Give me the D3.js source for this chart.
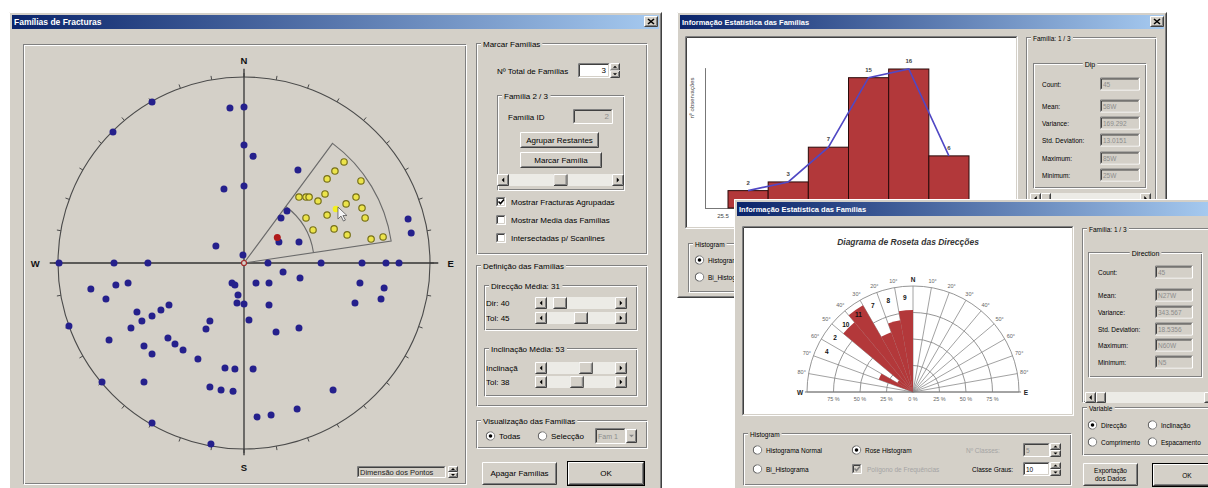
<!DOCTYPE html>
<html><head><meta charset="utf-8">
<script src="https://cdn.jsdelivr.net/npm/d3@7"></script>
<style>
html,body{margin:0;padding:0;background:#fff;overflow:hidden}
svg{display:block}
text{font-family:"Liberation Sans",Arial,sans-serif}
</style></head><body>
<svg id="c" width="1208" height="488"></svg>
<script>
// ---------- data ----------
const compassLabels = ["N", "E", "S", "W"];
// poles on the polar net, [east, north] in dip degrees (0 = centre, 90 = primitive)
const otherPoles = [
  [-44.5,77.9],[-63.4,63.4],[-6.8,75.0],[0,75.5],[0,57.1],[4.4,51.7],[-9.7,35.8],[0,37.3],
  [26.1,45.0],[20.8,25.2],[17.9,21.8],[26.6,10.2],[16.9,10.2],[-13.6,8.2],[79.4,21.3],[80.9,14.5],
  [-0.5,3.9],[-89.5,0],[-62.9,0],[-46.5,0],[11.6,0],[37.3,0],[57.1,0],[68.7,0],[75.0,0],
  [18.9,-4.4],[27.1,-7.3],[-74.1,-12.6],[-62.0,-10.6],[-56.1,-9.7],[-66.8,-17.4],[-5.8,-9.7],
  [-4.4,-10.6],[5.8,-9.7],[12.1,-9.7],[56.1,-9.7],[67.8,-12.1],[66.3,-17.4],[53.7,-19.4],
  [-2.9,-15.5],[-3.4,-19.4],[0,-19.8],[12.1,-20.3],[-51.8,-23.7],[-40.2,-22.7],[-36.3,-20.3],
  [-49.4,-28.1],[-44.5,-25.7],[-54.7,-31.5],[-16.5,-28.1],[-18.4,-31.9],[2.4,-27.6],[-84.7,-30.5],
  [-65.3,-37.3],[15.5,-33.4],[26.6,-31.5],[-48.4,-40.2],[-44.5,-44.0],[-36.8,-36.3],[-33.4,-39.2],
  [-29.5,-42.1],[-22.3,-46.5],[-9.2,-50.8],[-4.4,-51.3],[4.4,-51.3],[-68.7,-57.6],[-48.4,-57.6],
  [-16.5,-60.0],[-11.1,-61.5],[-5.3,-62.0],[43.1,-61.5],[25.7,-70.7],[13.1,-73.6],[6.3,-74.5],
  [-44.5,-77.4],[-16.0,-87.6]
];
const familyPoles = [
  [48.4,48.9],[44.0,44.5],[56.6,39.7],[40.2,40.7],[26.6,31.9],[30.0,31.9],[31.5,31.9],[35.8,30.0],
  [39.2,33.4],[54.2,31.9],[49.4,28.6],[57.1,26.6],[58.6,21.8],[40.2,23.2],[30.0,21.8],[43.6,16.5],
  [33.4,16.0],[49.9,13.6],[61.5,11.6],[67.3,12.6]
];
const hoverPole = [44.5, 26.1];
const markedPole = [16.5, 11.6];
const familyAzimuth = [36.5, 81.5];
const familyDip = 53, familyDipTol = 38;
const sliderDir = 40, sliderDirTol = 45, sliderDip = 53, sliderDipTol = 38;

const dipClassEdges = [25, 35, 45, 55, 65, 75, 85];
const dipCounts = [2, 3, 7, 15, 16, 6];
const statLabels = ["Count:", "Mean:", "Variance:", "Std. Deviation:", "Maximum:", "Minimum:"];
const dipStatValues = ["45", "58W", "169.292", "13.0151", "85W", "25W"];
const dirStatValues = ["45", "N27W", "343.567", "18.5356", "N60W", "N5"];

const roseClassStart = [290, 300, 310, 320, 330, 340, 350];
const roseCounts = [4, 2, 10, 11, 7, 8, 9];
const roseRings = [25, 50, 75, 100];
const roseRingLabels = [75, 50, 25];
const roseAngleTicks = [10, 20, 30, 40, 50, 60, 70, 80];

// ---------- widget helpers ----------
const svg = d3.select("#c");
const FACE = "#d4d0c8", SH = "#808080", DK = "#404040", HI = "#ffffff";
const defs = svg.append("defs");
const grad = defs.append("linearGradient").attr("id", "tb").attr("x1", 0).attr("x2", 1).attr("y1", 0).attr("y2", 0);
grad.append("stop").attr("offset", "0%").attr("stop-color", "#0a246a");
grad.append("stop").attr("offset", "100%").attr("stop-color", "#a6caf0");

function txt(g, x, y, s, o = {}) {
  return g.append("text").attr("x", x).attr("y", y).attr("font-size", o.size || 8)
    .attr("font-weight", o.weight || "normal").attr("font-style", o.style || "normal")
    .attr("text-anchor", o.anchor || "start").attr("dominant-baseline", "central")
    .attr("fill", o.fill || "#000").text(s);
}
function bevel(g, x, y, w, h, tl, br) {
  g.append("path").attr("d", `M${x + .5},${y + h - .5}V${y + .5}H${x + w - .5}`).attr("fill", "none").attr("stroke", tl);
  g.append("path").attr("d", `M${x + w - .5},${y + .5}V${y + h - .5}H${x + .5}`).attr("fill", "none").attr("stroke", br);
}
function raised(g, x, y, w, h, fill) {
  g.append("rect").attr("x", x).attr("y", y).attr("width", w).attr("height", h).attr("fill", fill || FACE);
  bevel(g, x, y, w, h, HI, DK);
  bevel(g, x + 1, y + 1, w - 2, h - 2, FACE, SH);
}
function sunken(g, x, y, w, h, fill) {
  g.append("rect").attr("x", x).attr("y", y).attr("width", w).attr("height", h).attr("fill", fill || "#fff");
  bevel(g, x, y, w, h, SH, HI);
  bevel(g, x + 1, y + 1, w - 2, h - 2, DK, FACE);
}
function etched(g, x, y, w, h) {
  g.append("rect").attr("x", x + .5).attr("y", y + .5).attr("width", w - 2).attr("height", h - 2).attr("fill", "none").attr("stroke", SH);
  g.append("rect").attr("x", x + 1.5).attr("y", y + 1.5).attr("width", w - 2).attr("height", h - 2).attr("fill", "none").attr("stroke", HI);
}
function group(g, x, y, w, h, label, fs, centered) {
  etched(g, x, y, w, h);
  if (label) {
    const t = txt(g, centered ? x + w / 2 : x + 7, y + 1, label, { size: fs, anchor: centered ? "middle" : "start" });
    const b = t.node().getBBox();
    g.insert("rect", () => t.node()).attr("x", b.x - 2).attr("y", b.y).attr("width", b.width + 4).attr("height", b.height).attr("fill", FACE);
  }
}
function tri(g, cx, cy, dir, s, col) {
  const p = { up: `M${cx - s},${cy + s / 2}L${cx + s},${cy + s / 2}L${cx},${cy - s / 2}Z`,
              down: `M${cx - s},${cy - s / 2}L${cx + s},${cy - s / 2}L${cx},${cy + s / 2}Z`,
              left: `M${cx + s / 2},${cy - s}L${cx + s / 2},${cy + s}L${cx - s / 2},${cy}Z`,
              right: `M${cx - s / 2},${cy - s}L${cx - s / 2},${cy + s}L${cx + s / 2},${cy}Z` }[dir];
  g.append("path").attr("d", p).attr("fill", col || "#000");
}
function button(g, x, y, w, h, label, fs, isDefault) {
  if (isDefault) {
    g.append("rect").attr("x", x + .5).attr("y", y + .5).attr("width", w - 1).attr("height", h - 1).attr("fill", "none").attr("stroke", "#000");
    raised(g, x + 1, y + 1, w - 2, h - 2);
  } else raised(g, x, y, w, h);
  if (Array.isArray(label)) {
    label.forEach((l, i) => txt(g, x + w / 2, y + h / 2 + (i - (label.length - 1) / 2) * (fs + 1), l, { size: fs, anchor: "middle" }));
  } else txt(g, x + w / 2, y + h / 2, label, { size: fs, anchor: "middle" });
}
function scrollbar(g, x, y, w, h, frac, thumbW) {
  g.append("rect").attr("x", x).attr("y", y).attr("width", w).attr("height", h).attr("fill", "#ecebe6");
  raised(g, x, y, h, h); tri(g, x + h / 2, y + h / 2, "left", 2.5);
  raised(g, x + w - h, y, h, h); tri(g, x + w - h / 2, y + h / 2, "right", 2.5);
  const tw = thumbW || 14;
  raised(g, x + h + frac * (w - 2 * h - tw), y, tw, h);
}
function spinner(g, x, y, w, h) {
  const hh = h / 2;
  raised(g, x, y, w, hh); tri(g, x + w / 2, y + hh / 2, "up", 2);
  raised(g, x, y + hh, w, hh); tri(g, x + w / 2, y + hh + hh / 2, "down", 2);
}
function textBox(g, x, y, w, h, value, fs, disabled, align, textCol) {
  sunken(g, x, y, w, h, disabled ? FACE : "#fff");
  if (value !== undefined) {
    const col = textCol || (disabled ? "#8c8c8c" : "#000");
    if (align === "end") txt(g, x + w - 4, y + h / 2, value, { size: fs, anchor: "end", fill: col });
    else txt(g, x + 3, y + h / 2, value, { size: fs, fill: col });
  }
}
function checkbox(g, x, y, checked, label, fs, disabled) {
  sunken(g, x, y - 5, 10, 10, disabled ? FACE : "#fff");
  if (checked) g.append("path").attr("d", `M${x + 2.5},${y - 0.5}l2,2l3.5,-4`).attr("fill", "none")
    .attr("stroke", disabled ? "#808080" : "#000").attr("stroke-width", 1.6);
  if (label) txt(g, x + 15, y, label, { size: fs, fill: disabled ? "#a4a4a4" : "#000" });
}
function radio(g, x, y, checked, label, fs) {
  g.append("circle").attr("cx", x + 4.5).attr("cy", y).attr("r", 4.2).attr("fill", "#fff").attr("stroke", SH);
  g.append("path").attr("d", d3.arc()({ innerRadius: 4, outerRadius: 4.4, startAngle: -Math.PI * 0.9, endAngle: -Math.PI * 0.1 }))
    .attr("transform", `translate(${x + 4.5},${y})`).attr("fill", DK);
  if (checked) g.append("circle").attr("cx", x + 4.5).attr("cy", y).attr("r", 1.8).attr("fill", "#000");
  if (label) txt(g, x + 13, y, label, { size: fs });
}
function windowFrame(g, x, y, w, h, title, fs) {
  raised(g, x, y, w, h);
  g.append("rect").attr("x", x + 3).attr("y", y + 3).attr("width", w - 6).attr("height", 14).attr("fill", "url(#tb)");
  txt(g, x + 5, y + 10, title, { size: fs, weight: "bold", fill: "#fff" });
}
function closeBtn(g, x, y) {
  raised(g, x, y, 14, 11);
  g.append("path").attr("d", `M${x + 4},${y + 3}l6,5M${x + 10},${y + 3}l-6,5`).attr("stroke", "#000").attr("stroke-width", 1.6);
}
const rad = d => d * Math.PI / 180;

// ================= Famílias de Fracturas =================
const L = svg.append("g");
windowFrame(L, 9, 12, 653, 490, "Famílias de Fracturas", 8.5);
closeBtn(L, 644, 16);
etched(L, 23, 44, 444, 441);

// polar net of fracture poles
const net = { cx: 244, cy: 263, R: 186 };
const sx = d3.scaleLinear().domain([-90, 90]).range([net.cx - net.R, net.cx + net.R]);
const sy = d3.scaleLinear().domain([-90, 90]).range([net.cy + net.R, net.cy - net.R]);
const sr = d3.scaleLinear().domain([0, 90]).range([0, net.R]);
const N = L.append("g");
N.append("circle").attr("cx", sx(0)).attr("cy", sy(0)).attr("r", sr(90)).attr("fill", "none").attr("stroke", "#4a4a4a").attr("stroke-width", 1.1);
N.selectAll("line.tick").data(d3.range(0, 360, 10)).join("line").attr("class", "tick")
  .attr("x1", a => sx(0) + sr(90) * Math.sin(rad(a))).attr("y1", a => sy(0) - sr(90) * Math.cos(rad(a)))
  .attr("x2", a => sx(0) + (sr(90) + 4) * Math.sin(rad(a))).attr("y2", a => sy(0) - (sr(90) + 4) * Math.cos(rad(a)))
  .attr("stroke", "#4a4a4a");
N.append("line").attr("x1", sx(-94)).attr("x2", sx(94)).attr("y1", sy(0)).attr("y2", sy(0)).attr("stroke", "#333").attr("stroke-width", 1.3);
N.append("line").attr("x1", sx(0)).attr("x2", sx(0)).attr("y1", sy(94)).attr("y2", sy(-93)).attr("stroke", "#333").attr("stroke-width", 1.3);
const labelPos = { N: [0, 98], S: [0, -99], E: [100, 0], W: [-101, 0] };
compassLabels.forEach(k => txt(N, sx(labelPos[k][0]), sy(labelPos[k][1]), k, { size: 9.5, weight: "bold", anchor: "middle", fill: "#111" }));

// family window: azimuth range and dip range
const dipIn = familyDip - familyDipTol / 2, dipOut = familyDip + familyDipTol / 2;
N.append("path").attr("d", d3.arc()({ innerRadius: 0, outerRadius: sr(dipOut), startAngle: rad(familyAzimuth[0]), endAngle: rad(familyAzimuth[1]) }))
  .attr("transform", `translate(${sx(0)},${sy(0)})`).attr("fill", "none").attr("stroke", "#6a6a6a").attr("stroke-width", 1.1);
const innerArc = d3.path();
innerArc.arc(sx(0), sy(0), sr(dipIn), rad(familyAzimuth[0] - 90), rad(familyAzimuth[1] - 90));
N.append("path").attr("d", innerArc.toString()).attr("fill", "none").attr("stroke", "#6a6a6a").attr("stroke-width", 1.1);

N.selectAll("circle.pole").data(otherPoles).join("circle").attr("class", "pole")
  .attr("cx", d => sx(d[0])).attr("cy", d => sy(d[1])).attr("r", 3.5).attr("fill", "#25208c");
N.selectAll("circle.fam").data(familyPoles).join("circle").attr("class", "fam")
  .attr("cx", d => sx(d[0])).attr("cy", d => sy(d[1])).attr("r", 3.2).attr("fill", "#ece44a").attr("stroke", "#77701a").attr("stroke-width", 1.2);
N.append("circle").attr("cx", sx(hoverPole[0])).attr("cy", sy(hoverPole[1])).attr("r", 3.3).attr("fill", "#f4f020");
N.append("circle").attr("cx", sx(markedPole[0]) - 0.8).attr("cy", sy(markedPole[1]) - 1.5).attr("r", 3.5).attr("fill", "#b01a1a");
N.append("circle").attr("cx", sx(0)).attr("cy", sy(0)).attr("r", 2.5).attr("fill", FACE).attr("stroke", "#a52a2a").attr("stroke-width", 1.2);
// mouse pointer resting on the highlighted pole
N.append("path").attr("d", "M0,0L0,12L3,9L5.5,14L7.5,13L5,8.5L9,8.5Z")
  .attr("transform", `translate(${sx(hoverPole[0]) + 2},${sy(hoverPole[1]) - 2})`)
  .attr("fill", "#f4f4f4").attr("stroke", "#555").attr("stroke-width", 0.8);

textBox(L, 357, 466, 89, 12, "Dimensão dos Pontos", 7.5, true, "start", "#222");
spinner(L, 448, 466, 10, 12);

// controls
const fsL = 8;
group(L, 476, 43, 172, 212, "Marcar Famílias", fsL);
txt(L, 497, 71, "Nº Total de Famílias", { size: fsL });
textBox(L, 578, 63, 32, 15, "3", fsL, false, "end");
spinner(L, 610, 63, 10, 15);
group(L, 497, 95, 128, 96, "Família 2 / 3", fsL);
txt(L, 508, 117, "Família   ID", { size: fsL });
textBox(L, 573, 109, 40, 15, "2", fsL, true, "end");
button(L, 520, 132, 79, 16, "Agrupar Restantes", fsL);
button(L, 520, 152, 82, 16, "Marcar Família", fsL);
scrollbar(L, 497, 174, 127, 12, (2 - 1) / (3 - 1), 14);
checkbox(L, 496, 202, true, "Mostrar Fracturas Agrupadas", fsL);
checkbox(L, 496, 220, false, "Mostrar Media das Famílias", fsL);
checkbox(L, 496, 238, false, "Intersectadas p/ Scanlines", fsL);

group(L, 476, 265, 172, 142, "Definição das Famílias", fsL);
group(L, 484, 285, 154, 46, "Direcção Média: 31", fsL);
txt(L, 486, 303, "Dir: " + sliderDir, { size: fsL });
scrollbar(L, 535, 297, 92, 12, sliderDir / 360, 14);
txt(L, 486, 318, "Tol: " + sliderDirTol, { size: fsL });
scrollbar(L, 535, 312, 92, 12, sliderDirTol / 90, 14);
group(L, 484, 348, 154, 49, "Inclinação Média: " + familyDip, fsL);
txt(L, 486, 368, "Inclinaçã", { size: fsL });
scrollbar(L, 535, 362, 92, 12, sliderDip / 90, 14);
txt(L, 486, 382, "Tol: " + sliderDipTol, { size: fsL });
scrollbar(L, 535, 376, 92, 12, sliderDipTol / 90, 14);

group(L, 476, 420, 172, 29, "Visualização das Famílias", fsL);
radio(L, 486, 436, true, "Todas", fsL);
radio(L, 538, 436, false, "Selecção", fsL);
textBox(L, 595, 428, 31, 16, "Fam 1", 7, true);
raised(L, 626, 429, 11, 14); tri(L, 631.5, 436, "down", 2.5, "#888");
button(L, 482, 462, 75, 23, "Apagar Famílias", fsL);
button(L, 567, 461, 78, 25, "OK", fsL, true);

// ================= Informação Estatística (Dip) =================
const T = svg.append("g");
const fsR = 6.5;
windowFrame(T, 677, 12, 490, 286, "Informação Estatística das Famílias", 7.5);
closeBtn(T, 1150, 16);
sunken(T, 685, 36, 333, 193, "#fff");
const hx = d3.scaleLinear().domain([25, 85]).range([728, 969]);
const hy = d3.scaleLinear().domain([0, 16]).range([208, 69]);
const bars = dipCounts.map((c, i) => ({ c, x0: dipClassEdges[i], x1: dipClassEdges[i + 1] }));
T.append("line").attr("x1", 705.5).attr("x2", 705.5).attr("y1", hy(0)).attr("y2", hy(16.1)).attr("stroke", "#777");
T.append("line").attr("x1", 705).attr("x2", 990).attr("y1", hy(0) + .5).attr("y2", hy(0) + .5).attr("stroke", "#777");
T.selectAll("rect.bar").data(bars).join("rect").attr("class", "bar")
  .attr("x", d => hx(d.x0)).attr("width", d => hx(d.x1) - hx(d.x0))
  .attr("y", d => hy(d.c)).attr("height", d => hy(0) - hy(d.c))
  .attr("fill", "#b2383a").attr("stroke", "#2a0a0a").attr("stroke-width", 1);
T.append("path").attr("d", d3.line().x(d => (hx(d.x0) + hx(d.x1)) / 2).y(d => hy(d.c))(bars))
  .attr("fill", "none").attr("stroke", "#5048c4").attr("stroke-width", 1.6);
T.selectAll("text.bl").data(bars).join("text").attr("class", "bl")
  .attr("x", d => (hx(d.x0) + hx(d.x1)) / 2).attr("y", d => hy(d.c) - 6)
  .attr("text-anchor", "middle").attr("font-size", 6).attr("font-weight", "bold").attr("fill", "#444").text(d => d.c);
txt(T, hx(dipClassEdges[0]) - 5, 216, "25.5", { size: 6, anchor: "middle", fill: "#444" });
txt(T, 0, 0, "nº observações", { size: 6, anchor: "middle", fill: "#444" })
  .attr("transform", "translate(692,98) rotate(-90)");

group(T, 1026, 37, 131, 250, "Família: 1 / 3", fsR);
group(T, 1033, 63, 114, 126, "Dip", 7, true);
const dipRowY = [84, 106, 123, 140, 158, 175];
statLabels.forEach((l, i) => {
  txt(T, 1042, dipRowY[i], l, { size: fsR });
  textBox(T, 1100, dipRowY[i] - 6.5, 40, 13, dipStatValues[i], fsR, true);
});
scrollbar(T, 1030, 193, 121, 11, 0, 10);
group(T, 688, 243, 120, 50, "Histogram", fsR);
radio(T, 695, 260, true, "Histograma Normal", fsR);
radio(T, 695, 277, false, "Bi_Histograma", fsR);

// ================= Informação Estatística (Direcção) =================
const B = svg.append("g");
windowFrame(B, 734, 199, 480, 295, "Informação Estatística das Famílias", 7.5);
sunken(B, 742, 226, 332, 190, "#fff");
txt(B, 908, 242, "Diagrama de Roseta das Direcções", { size: 8.5, weight: "bold", style: "italic", fill: "#333", anchor: "middle" });

const rc = { cx: 913, cy: 392, R: 106 };
const ringR = d3.scaleLinear().domain([0, 100]).range([0, rc.R]);
const petalR = d3.scaleLinear().domain([0, 11.65]).range([0, rc.R]);
const RG = B.append("g");
RG.selectAll("line.spoke").data(d3.range(-90, 91, 10)).join("line").attr("class", "spoke")
  .attr("x1", rc.cx).attr("y1", rc.cy)
  .attr("x2", a => rc.cx + ringR(100) * Math.sin(rad(a))).attr("y2", a => rc.cy - ringR(100) * Math.cos(rad(a)))
  .attr("stroke", "#8a8a8a").attr("stroke-width", 0.8);
RG.selectAll("path.ring").data(roseRings).join("path").attr("class", "ring")
  .attr("d", p => { const q = d3.path(); q.arc(rc.cx, rc.cy, ringR(p), -Math.PI, 0); return q.toString(); })
  .attr("fill", "none").attr("stroke", "#8a8a8a").attr("stroke-width", 0.9);
RG.append("line").attr("x1", rc.cx - ringR(102)).attr("x2", rc.cx + ringR(102)).attr("y1", rc.cy).attr("y2", rc.cy)
  .attr("stroke", "#777").attr("stroke-width", 1);
const petals = roseClassStart.map((s, i) => ({ s, c: roseCounts[i] }));
RG.selectAll("path.petal").data(petals).join("path").attr("class", "petal")
  .attr("d", d => d3.arc()({ innerRadius: 0, outerRadius: petalR(d.c), startAngle: rad(d.s - 360), endAngle: rad(d.s - 350) }))
  .attr("transform", `translate(${rc.cx},${rc.cy})`).attr("fill", "#b3383a");
RG.selectAll("text.pc").data(petals).join("text").attr("class", "pc")
  .attr("x", d => rc.cx + 95 * Math.sin(rad(d.s - 355))).attr("y", d => rc.cy - 95 * Math.cos(rad(d.s - 355)))
  .attr("text-anchor", "middle").attr("dominant-baseline", "central")
  .attr("font-size", 6.5).attr("font-weight", "bold").attr("fill", "#111").text(d => d.c);
const angLab = roseAngleTicks.flatMap(t => [{ a: -t, s: t + "°" }, { a: t, s: t + "°" }])
  .concat([{ a: -90, s: "W", b: true }, { a: 90, s: "E", b: true }, { a: 0, s: "N", b: true }]);
RG.selectAll("text.al").data(angLab).join("text").attr("class", "al")
  .attr("x", d => rc.cx + 113 * Math.sin(rad(d.a))).attr("y", d => rc.cy - 113 * Math.cos(rad(d.a)))
  .attr("text-anchor", "middle").attr("dominant-baseline", "central")
  .attr("font-size", d => d.b ? 6.5 : 5.5).attr("font-weight", d => d.b ? "bold" : "normal")
  .attr("fill", d => d.b ? "#222" : "#666").text(d => d.s);
const ringLab = roseRingLabels.flatMap(p => [{ x: -p, s: p + " %" }, { x: p, s: p + " %" }]).concat([{ x: 0, s: "0 %" }]);
RG.selectAll("text.rl").data(ringLab).join("text").attr("class", "rl")
  .attr("x", d => rc.cx + (d.x < 0 ? -ringR(-d.x) : ringR(d.x))).attr("y", rc.cy + 7)
  .attr("text-anchor", "middle").attr("dominant-baseline", "central")
  .attr("font-size", 5.5).attr("fill", "#666").text(d => d.s);

group(B, 1082, 228, 140, 175, "Família: 1 / 3", fsR);
group(B, 1088, 252, 115, 126, "Direction", 7, true);
const dirRowY = [272, 295, 312, 329, 345, 362];
statLabels.forEach((l, i) => {
  txt(B, 1098, dirRowY[i], l, { size: fsR });
  textBox(B, 1155, dirRowY[i] - 6.5, 38, 13, dirStatValues[i], fsR, true);
});
scrollbar(B, 1085, 392, 130, 11, 0, 10);
group(B, 1082, 407, 140, 49, "Variable", fsR);
radio(B, 1088, 425, true, "Direcção", fsR);
radio(B, 1148, 425, false, "Inclinação", fsR);
radio(B, 1088, 442, false, "Comprimento", fsR);
radio(B, 1148, 442, false, "Espacamento", fsR);
button(B, 1083, 463, 55, 23, ["Exportação", "dos Dados"], fsR);
button(B, 1152, 463, 70, 24, "OK", fsR, true);

group(B, 743, 433, 329, 53, "Histogram", fsR);
radio(B, 753, 450, false, "Histograma Normal", fsR);
radio(B, 753, 469, false, "Bi_Histograma", fsR);
radio(B, 852, 450, true, "Rose Histogram", fsR);
checkbox(B, 852, 469, true, "Polígono de Frequências", fsR, true);
txt(B, 966, 450, "Nº Classes:", { size: fsR, fill: "#a4a4a4" });
textBox(B, 1023, 443, 27, 14, "5", fsR, true);
spinner(B, 1050, 443, 11, 14);
txt(B, 972, 469, "Classe Graus:", { size: fsR });
textBox(B, 1023, 462, 27, 14, "10", fsR, false);
spinner(B, 1050, 462, 11, 14);
</script>
</body></html>
